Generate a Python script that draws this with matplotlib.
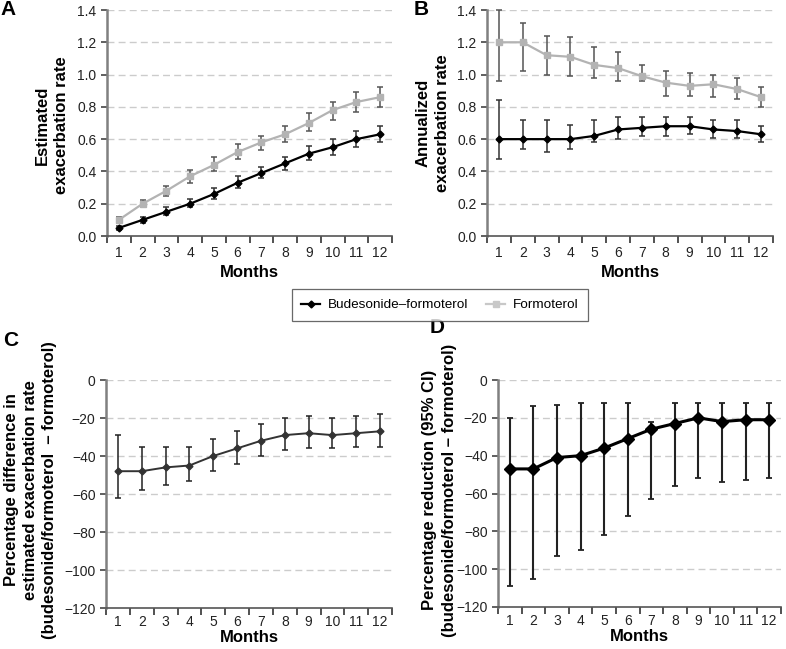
import numpy as np
import matplotlib
matplotlib.use('Agg')
import matplotlib.pyplot as plt
from matplotlib.ticker import FixedLocator
from matplotlib.lines import Line2D

plt.rcParams['font.family'] = ['Liberation Sans', 'DejaVu Sans']

months = np.arange(1, 13)

# A: estimated exacerbation rate
a_bud = [0.05, 0.10, 0.15, 0.20, 0.26, 0.33, 0.39, 0.45, 0.51, 0.55, 0.60, 0.63]
a_bud_lo = [0.04, 0.08, 0.13, 0.18, 0.23, 0.30, 0.36, 0.41, 0.47, 0.50, 0.55, 0.58]
a_bud_hi = [0.06, 0.12, 0.18, 0.23, 0.30, 0.37, 0.43, 0.49, 0.56, 0.60, 0.65, 0.68]
a_for = [0.10, 0.20, 0.28, 0.37, 0.44, 0.52, 0.58, 0.63, 0.70, 0.78, 0.83, 0.86]
a_for_lo = [0.08, 0.18, 0.25, 0.33, 0.40, 0.48, 0.53, 0.58, 0.65, 0.72, 0.77, 0.80]
a_for_hi = [0.12, 0.22, 0.31, 0.41, 0.49, 0.57, 0.62, 0.68, 0.76, 0.83, 0.89, 0.92]

# B: annualized exacerbation rate
b_bud = [0.60, 0.60, 0.60, 0.60, 0.62, 0.66, 0.67, 0.68, 0.68, 0.66, 0.65, 0.63]
b_bud_lo = [0.48, 0.54, 0.52, 0.54, 0.58, 0.60, 0.62, 0.62, 0.63, 0.61, 0.61, 0.58]
b_bud_hi = [0.84, 0.72, 0.72, 0.69, 0.72, 0.74, 0.74, 0.74, 0.74, 0.72, 0.72, 0.68]
b_for = [1.20, 1.20, 1.12, 1.11, 1.06, 1.04, 0.99, 0.95, 0.93, 0.94, 0.91, 0.86]
b_for_lo = [0.96, 1.02, 1.00, 0.99, 0.98, 0.96, 0.96, 0.87, 0.87, 0.86, 0.85, 0.80]
b_for_hi = [1.40, 1.32, 1.24, 1.23, 1.17, 1.14, 1.06, 1.02, 1.01, 1.00, 0.98, 0.92]

# C: percentage difference in estimated exacerbation rate
c_val = [-48, -48, -46, -45, -40, -36, -32, -29, -28, -29, -28, -27]
c_lo = [-62, -58, -55, -53, -48, -44, -40, -37, -36, -36, -35, -35]
c_hi = [-29, -35, -35, -35, -31, -27, -23, -20, -19, -20, -19, -18]

# D: percentage reduction (95% CI)
d_val = [-47, -47, -41, -40, -36, -31, -26, -23, -20, -22, -21, -21]
d_lo = [-109, -105, -93, -90, -82, -72, -63, -56, -52, -54, -53, -52]
d_hi = [-20, -14, -13, -12, -12, -12, -22, -12, -12, -12, -12, -12]

W, H = 786, 649
fig = plt.figure(figsize=(W / 100, H / 100), dpi=100)


def px_axes(l, r, t, b):
    return fig.add_axes([l / W, 1 - b / H, (r - l) / W, (b - t) / H])


axA = px_axes(107, 392, 10, 236)
axB = px_axes(487, 773, 10, 236)
axC = px_axes(106, 392, 380, 608)
axD = px_axes(498, 781, 380, 607)


def style(ax, ylim, yticks, fmt, xpad=7, lpad=4):
    ax.set_xlim(0.5, 12.5)
    ax.set_ylim(*ylim)
    ax.set_yticks(yticks)
    ax.set_yticklabels([fmt(v) for v in yticks])
    ax.set_xticks(months)
    ax.xaxis.set_minor_locator(FixedLocator(np.arange(0.5, 13, 1)))
    ax.tick_params(axis='x', which='major', length=0, pad=xpad, labelsize=10, colors='#222222')
    ax.tick_params(axis='x', which='minor', length=5, width=1.2, direction='out', color='#333333')
    ax.tick_params(axis='y', length=4, width=1.2, color='#444444', labelsize=10,
                   labelcolor='#222222')
    for s in ['top', 'right']:
        ax.spines[s].set_visible(False)
    ax.spines['left'].set_color('#808080')
    ax.spines['left'].set_linewidth(1.8)
    ax.spines['bottom'].set_color('#555555')
    ax.spines['bottom'].set_linewidth(1.2)
    for v in yticks:
        if v != ylim[0]:
            ax.axhline(v, color='#cccccc', lw=1, ls=(0, (5, 3)), zorder=0)
    ax.set_xlabel('Months', fontsize=12, fontweight='bold', labelpad=lpad)


def err(vals, lo, hi):
    v = np.array(vals)
    return [v - np.array(lo), np.array(hi) - v]


minus = lambda v: f'{v:d}'.replace('-', '\u2212')

# A
style(axA, (0, 1.4), np.arange(0, 1.41, 0.2), lambda v: f'{v:.1f}')
axA.errorbar(months, a_for, yerr=err(a_for, a_for_lo, a_for_hi), color='#b3b3b3',
             marker='s', ms=5, lw=1.6, ecolor='#555555', elinewidth=1.1, capsize=2.5,
             capthick=1.1, zorder=3)
axA.errorbar(months, a_bud, yerr=err(a_bud, a_bud_lo, a_bud_hi), color='black',
             marker='D', ms=3.5, lw=1.6, ecolor='#333333', elinewidth=1.1, capsize=2.5,
             capthick=1.1, zorder=4)

# B
style(axB, (0, 1.4), np.arange(0, 1.41, 0.2), lambda v: f'{v:.1f}')
axB.errorbar(months, b_for, yerr=err(b_for, b_for_lo, b_for_hi), color='#b3b3b3',
             marker='s', ms=5, lw=1.6, ecolor='#555555', elinewidth=1.1, capsize=2.5,
             capthick=1.1, zorder=3, clip_on=False)
axB.errorbar(months, b_bud, yerr=err(b_bud, b_bud_lo, b_bud_hi), color='black',
             marker='D', ms=3.5, lw=1.6, ecolor='#333333', elinewidth=1.1, capsize=2.5,
             capthick=1.1, zorder=4)

# C
style(axC, (-120, 0), np.arange(-120, 1, 20), minus, xpad=5, lpad=1)
axC.errorbar(months, c_val, yerr=err(c_val, c_lo, c_hi), color='#333333',
             marker='D', ms=3.5, lw=1.4, ecolor='#222222', elinewidth=1.1, capsize=2.5,
             capthick=1.1, zorder=3)

# D
style(axD, (-120, 0), np.arange(-120, 1, 20), minus, xpad=5, lpad=1)
axD.errorbar(months, d_val, yerr=err(d_val, d_lo, d_hi), color='black',
             marker='D', ms=6, lw=2.2, ecolor='#222222', elinewidth=1.5, capsize=2.5,
             capthick=1.3, zorder=3)

# y labels, one text per line, placed in pixel coordinates
ylabels = [
    ([42, 62], 125, ['Estimated', 'exacerbation rate']),
    ([423, 443], 123, ['Annualized', 'exacerbation rate']),
    ([12, 31, 50], 490, ['Percentage difference in', 'estimated exacerbation rate',
                         '(budesonide/formoterol  \u2013 formoterol)']),
    ([430, 450], 490, ['Percentage reduction (95% CI)',
                       '(budesonide/formoterol \u2013 formoterol)']),
]
for xs, y, lines in ylabels:
    for x, t in zip(xs, lines):
        fig.text(x / W, 1 - y / H, t, rotation=90, ha='center', va='center',
                 fontsize=12, fontweight='bold')

# panel letters
for x, y, t in [(0, 0, 'A'), (414, 0, 'B'), (3, 331, 'C'), (430, 318, 'D')]:
    fig.text(x / W, 1 - y / H, t, fontsize=15, fontweight='bold', va='top', ha='left')

h1 = Line2D([], [], color='black', marker='D', ms=3.5, lw=1.6)
h2 = Line2D([], [], color='#c8c8c8', marker='s', ms=4, lw=1.6)
leg = fig.legend([h1, h2], ['Budesonide\u2013formoterol', 'Formoterol'], loc='center',
                 bbox_to_anchor=(440 / W, 1 - 305 / H), ncol=2, fontsize=9.7, frameon=True,
                 fancybox=False, edgecolor='#444444', handlelength=1.4, handletextpad=0.6,
                 columnspacing=1.3, borderpad=0.7)
leg.get_frame().set_linewidth(0.9)

fig.savefig('out.png', dpi=100)
